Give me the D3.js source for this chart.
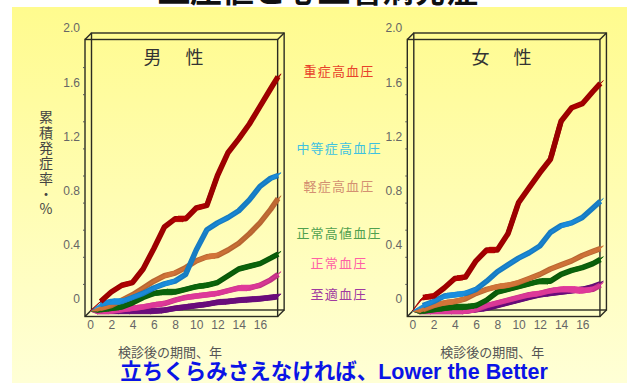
<!DOCTYPE html>
<html>
<head>
<meta charset="utf-8">
<script src="https://cdn.jsdelivr.net/npm/d3@7"></script>
<style>
  body { margin: 0; background: #fff; }
  svg { display: block; }
  .jp { font-family: "Noto Sans CJK JP", sans-serif; }
</style>
</head>
<body>
<svg id="chart" width="627" height="383"></svg>
<script>
// years after screening
var years = [0, 1, 2, 3, 4, 5, 6, 7, 8, 9, 10, 11, 12, 13, 14, 15, 16, 17, 17.7];
var yTicks = [0, 0.4, 0.8, 1.2, 1.6, 2.0];
var yMinor = [0.2, 0.4, 0.6, 0.8, 1.0, 1.2, 1.4, 1.6, 1.8];
var xTicks = [0, 2, 4, 6, 8, 10, 12, 14, 16];

var categories = ['至適血圧', '正常血圧', '正常高値血圧', '軽症高血圧', '中等症高血圧', '重症高血圧'];
var lineColors = ['#6a0c7c', '#e0399a', '#0b650b', '#d5763a', '#1b8fe0', '#b40000'];
var labelColors = ['#a03aa0', '#ff5fa5', '#4fa04f', '#d39072', '#3ec2e0', '#e8402a'];

// cumulative incidence, %  (male)
var maleOptimal  = [0, 0, 0, 0, 0, 0, 0, 0.005, 0.02, 0.03, 0.04, 0.05, 0.065, 0.07, 0.08, 0.085, 0.09, 0.10, 0.105];
var maleNormal   = [0, 0, 0, 0.01, 0.02, 0.03, 0.045, 0.055, 0.08, 0.10, 0.11, 0.12, 0.13, 0.15, 0.17, 0.17, 0.19, 0.23, 0.27];
var maleHighNorm = [0, 0.01, 0.02, 0.03, 0.06, 0.10, 0.13, 0.14, 0.14, 0.16, 0.18, 0.19, 0.21, 0.26, 0.31, 0.33, 0.35, 0.39, 0.42];
var maleMild     = [0, 0.02, 0.04, 0.08, 0.12, 0.17, 0.22, 0.26, 0.28, 0.32, 0.37, 0.40, 0.41, 0.45, 0.50, 0.57, 0.65, 0.75, 0.83];
var maleModerate = [0, 0.05, 0.07, 0.07, 0.10, 0.13, 0.17, 0.20, 0.22, 0.27, 0.45, 0.60, 0.65, 0.69, 0.74, 0.82, 0.92, 0.98, 1.0];
var maleSevere   = [0, 0.07, 0.14, 0.19, 0.21, 0.31, 0.46, 0.62, 0.68, 0.68, 0.76, 0.78, 1.0, 1.17, 1.27, 1.38, 1.51, 1.64, 1.73];

// cumulative incidence, %  (female)
var femaleOptimal  = [0, 0, 0, 0, 0, 0, 0.01, 0.02, 0.04, 0.06, 0.08, 0.10, 0.12, 0.13, 0.14, 0.15, 0.16, 0.18, 0.20];
var femaleNormal   = [0, 0, 0, 0, 0, 0, 0.01, 0.04, 0.06, 0.08, 0.10, 0.12, 0.13, 0.15, 0.16, 0.16, 0.15, 0.16, 0.19];
var femaleHighNorm = [0, 0, 0.01, 0.02, 0.03, 0.03, 0.04, 0.08, 0.14, 0.16, 0.18, 0.20, 0.22, 0.22, 0.27, 0.30, 0.32, 0.35, 0.38];
var femaleMild     = [0, 0.01, 0.04, 0.06, 0.07, 0.09, 0.13, 0.16, 0.18, 0.19, 0.21, 0.24, 0.27, 0.31, 0.34, 0.37, 0.41, 0.44, 0.46];
var femaleModerate = [0, 0.04, 0.07, 0.11, 0.12, 0.13, 0.16, 0.22, 0.29, 0.34, 0.39, 0.43, 0.48, 0.58, 0.63, 0.65, 0.69, 0.76, 0.81];
var femaleSevere   = [0, 0.10, 0.11, 0.17, 0.24, 0.25, 0.37, 0.45, 0.45, 0.57, 0.80, 0.91, 1.02, 1.12, 1.40, 1.50, 1.53, 1.62, 1.68];

var svg = d3.select('#chart');
var W = 627, H = 383;

// background
var defs = svg.append('defs');
var grad = defs.append('linearGradient')
  .attr('id', 'bg')
  .attr('x1', '0%').attr('y1', '0%')
  .attr('x2', '0%').attr('y2', '100%');
grad.append('stop').attr('offset', '0%').attr('stop-color', '#fffb8e');
grad.append('stop').attr('offset', '100%').attr('stop-color', '#ffffd6');

svg.append('rect').attr('width', W).attr('height', H).attr('fill', '#fff');
svg.append('rect')
  .attr('x', 12).attr('y', 7)
  .attr('width', W - 12).attr('height', H - 7)
  .attr('fill', 'url(#bg)');

// title (cut off at top of slide)
svg.append('text')
  .attr('class', 'jp')
  .attr('x', 318).attr('y', 2)
  .attr('text-anchor', 'middle')
  .attr('font-size', '32px')
  .attr('font-weight', 'bold')
  .attr('fill', '#111')
  .text('血圧値と心血管病発症');

var depth = {dx: 6.5, dy: -6.5};
var axisFont = '"Liberation Sans Narrow", "Arial Narrow", sans-serif';

function drawPanel(x0, titleX, title, series) {
  var x = d3.scaleLinear().domain([0, 18]).range([x0, x0 + 18 * 10.625]);
  var y = d3.scaleLinear().domain([0, 2]).range([311, 40]);
  var g = svg.append('g');

  // 3D box
  var fl = x0 - 5, fr = x(17.66), ft = 39.5, fb = 316.5;
  var box = g.append('g')
    .attr('fill', 'none')
    .attr('stroke', '#2b2b22')
    .attr('stroke-width', 1.4);
  box.append('rect')
    .attr('x', fl + depth.dx).attr('y', ft + depth.dy)
    .attr('width', fr - fl).attr('height', fb - ft);
  box.append('rect')
    .attr('x', fl).attr('y', ft)
    .attr('width', fr - fl).attr('height', fb - ft);
  [[fl, ft], [fr, ft], [fl, fb], [fr, fb]].forEach(function(c) {
    box.append('line')
      .attr('x1', c[0]).attr('y1', c[1])
      .attr('x2', c[0] + depth.dx).attr('y2', c[1] + depth.dy);
  });

  // minor ticks on the front edge
  g.append('g')
    .attr('transform', 'translate(' + fl + ',0)')
    .call(d3.axisLeft(y).tickValues(yMinor).tickSize(2).tickFormat(''))
    .call(function(a) {
      a.select('.domain').remove();
      a.selectAll('line').attr('stroke', '#555');
    });

  // y labels sit on the back wall
  g.append('g')
    .attr('transform', 'translate(' + fl + ',-12)')
    .call(d3.axisLeft(y).tickValues(yTicks).tickSize(0).tickPadding(5)
      .tickFormat(function(d) { return d === 0 ? '0' : d3.format('.1f')(d); }))
    .call(function(a) {
      a.select('.domain').remove();
      a.selectAll('text')
        .attr('fill', '#666')
        .attr('font-size', '12px')
        .attr('font-family', axisFont);
    });

  g.append('g')
    .attr('transform', 'translate(0,' + fb + ')')
    .call(d3.axisBottom(x).tickValues(xTicks).tickSize(0).tickPadding(4))
    .call(function(a) {
      a.select('.domain').remove();
      a.selectAll('text')
        .attr('fill', '#666')
        .attr('font-size', '12px')
        .attr('font-family', axisFont);
    });

  // ribbons
  series.forEach(function(vals, si) {
    var base = d3.color(lineColors[si]);
    var dark = base.darker(0.9);
    var pts = years.map(function(t, i) {
      var k = i === 0 ? 0 : 0.5;
      return {px: x(t), py: y(vals[i]), hx: 6 * k, hy: -5.5 * k};
    });
    var rg = g.append('g');
    // core stroke keeps a minimum thickness
    rg.append('path')
      .datum(pts.slice(1))
      .attr('d', d3.line().x(function(p) { return p.px; }).y(function(p) { return p.py; }))
      .attr('fill', 'none')
      .attr('stroke', d3.interpolateRgb(base, dark)(0.5))
      .attr('stroke-width', 5.5)
      .attr('stroke-linejoin', 'round');
    for (var i = 0; i < pts.length - 1; i++) {
      var a = pts[i], b = pts[i + 1];
      var ddx = b.px - a.px, ddy = a.py - b.py;
      var steep = Math.max(0, ddy) / (Math.abs(ddx) + Math.abs(ddy) + 0.001);
      var col = d3.interpolateRgb(base, dark)(Math.pow(steep, 1.5) * 0.8);
      var poly = [
        [a.px - a.hx, a.py - a.hy],
        [b.px - b.hx, b.py - b.hy],
        [b.px + b.hx, b.py + b.hy],
        [a.px + a.hx, a.py + a.hy]
      ];
      rg.append('path')
        .attr('d', d3.line()(poly) + 'Z')
        .attr('fill', col)
        .attr('stroke', col)
        .attr('stroke-width', 0.8)
        .attr('stroke-linejoin', 'round');
    }
  });

  g.append('text')
    .attr('class', 'jp')
    .attr('x', titleX).attr('y', 64)
    .attr('text-anchor', 'middle')
    .attr('font-size', '18px')
    .attr('letter-spacing', '3px')
    .attr('fill', '#333')
    .text(title);

  g.append('text')
    .attr('class', 'jp')
    .attr('x', x0 + 80).attr('y', 357)
    .attr('text-anchor', 'middle')
    .attr('font-size', '13px')
    .attr('fill', '#555')
    .text('検診後の期間、年');
}

drawPanel(90, 175, '男\u3000性', [maleOptimal, maleNormal, maleHighNorm, maleMild, maleModerate, maleSevere]);
drawPanel(412.3, 503, '女\u3000性', [femaleOptimal, femaleNormal, femaleHighNorm, femaleMild, femaleModerate, femaleSevere]);

// legend between panels
var legendY = [294, 263, 233, 186, 148, 71];
svg.append('g').selectAll('text')
  .data(categories)
  .enter()
  .append('text')
  .attr('class', 'jp')
  .attr('x', 339)
  .attr('y', function(d, i) { return legendY[i] + 5; })
  .attr('text-anchor', 'middle')
  .attr('font-size', '13px')
  .attr('letter-spacing', '1.2px')
  .attr('fill', function(d, i) { return labelColors[i]; })
  .text(function(d) { return d; });

// y axis title, vertical
svg.append('text')
  .attr('class', 'jp')
  .attr('x', 46).attr('y', 110)
  .attr('font-size', '14px')
  .attr('letter-spacing', '1.3px')
  .attr('fill', '#444')
  .style('writing-mode', 'vertical-rl')
  .style('text-orientation', 'upright')
  .text('累積発症率・%');

// bottom message
svg.append('text')
  .attr('x', 334).attr('y', 378.5)
  .attr('text-anchor', 'middle')
  .attr('font-family', '"Liberation Sans", "Noto Sans CJK JP", sans-serif')
  .attr('font-size', '21.5px')
  .attr('font-weight', 'bold')
  .attr('fill', '#0a14e6')
  .text('立ちくらみさえなければ、Lower the Better');
</script>
</body>
</html>
